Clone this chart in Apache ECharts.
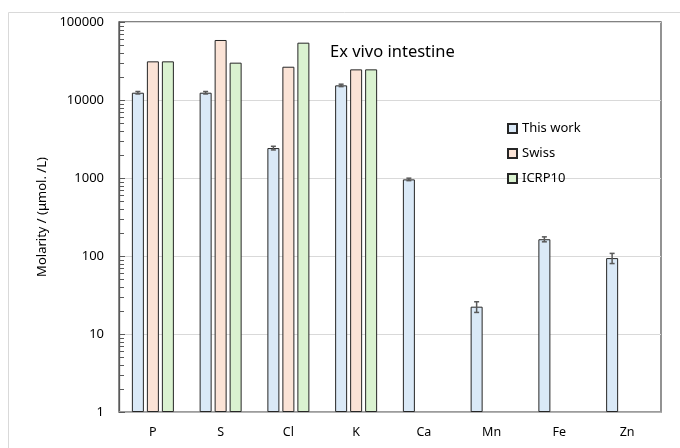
<!DOCTYPE html>
<html><head><meta charset="utf-8">
<script src="https://cdn.jsdelivr.net/npm/echarts@6/dist/echarts.min.js"></script>
<style>html,body{margin:0;padding:0;background:#fff}#c{width:680px;height:448px}</style>
</head><body><div id="c"></div>
<script>
const categories = ['P','S','Cl','K','Ca','Mn','Fe','Zn'];
const thisWork = [12400, 12400, 2420, 15400, 960, 22.4, 164, 94];
const thisWorkErr = [450, 450, 130, 550, 35, 3.5, 12, 14];
const swiss = [31300, 58800, 26700, 24700, null, null, null, null];
const icrp10 = [31300, 30100, 54300, 24700, null, null, null, null];
const yTickValues = [1, 10, 100, 1000, 10000, 100000];
const minorMultipliers = [2,3,4,5,6,7,8,9];

const FONT = 'Noto Sans';
const minorData = [];
for (let d = 0; d < yTickValues.length - 1; d++) {
  for (const m of minorMultipliers) minorData.push([0, yTickValues[d] * m]);
}
const errData = thisWork.map((v, i) => [i, v, v - thisWorkErr[i], v + thisWorkErr[i]]);

const chart = echarts.init(document.getElementById('c'));
chart.setOption({
  animation: false,
  textStyle: { fontFamily: FONT },
  graphic: [
    { type: 'rect', shape: { x: 8.5, y: 12.5, width: 700, height: 500 }, style: { fill: 'none', stroke: '#d9d9d9', lineWidth: 1 }, silent: true, z: -10 },
    { type: 'text', left: 330, top: 44, style: { text: 'Ex vivo intestine', font: '16.5px "' + FONT + '"', fill: '#000' } }
  ],
  grid: { left: 119, top: 22, right: 19, bottom: 36, show: true, borderColor: '#595959', borderWidth: 1.3 },
  legend: {
    data: ['This work', 'Swiss', 'ICRP10'],
    orient: 'vertical', left: 502, top: 117,
    itemWidth: 9, itemHeight: 9, itemGap: 12,
    icon: 'rect',
    textStyle: { fontSize: 13, color: '#000', fontFamily: FONT }
  },
  xAxis: {
    type: 'category', data: categories,
    axisLine: { lineStyle: { color: '#a6a6a6', width: 1.5 } },
    axisTick: { show: false },
    axisLabel: { color: '#000', fontSize: 12.5, margin: 14 },
    splitLine: { show: false }
  },
  yAxis: {
    type: 'log', logBase: 10, min: 1, max: 100000,
    name: 'Molarity / (μmol. /L)', nameLocation: 'middle', nameGap: 66,
    nameTextStyle: { fontSize: 13, color: '#000' },
    axisLine: { show: true, lineStyle: { color: '#595959', width: 1.3 } },
    axisTick: { show: true, inside: true, length: 6, lineStyle: { color: '#595959' } },
    axisLabel: { color: '#000', fontSize: 13, margin: 15, formatter: function (v) { return String(Math.round(v)); } },
    splitLine: { show: true, lineStyle: { color: '#d9d9d9', width: 1 } }
  },
  series: [
    { name: 'This work', type: 'bar', data: thisWork, barWidth: 12, barGap: '25%',
      itemStyle: { color: '#dae9f7', borderColor: '#262626', borderWidth: 1 } },
    { name: 'Swiss', type: 'bar', data: swiss, barWidth: 12, barGap: '25%',
      itemStyle: { color: '#fbe3d6', borderColor: '#262626', borderWidth: 1 } },
    { name: 'ICRP10', type: 'bar', data: icrp10, barWidth: 12, barGap: '25%',
      itemStyle: { color: '#daf2d0', borderColor: '#262626', borderWidth: 1 } },
    { type: 'custom', name: 'err', data: errData, z: 10, silent: true, encode: { x: 0, y: 1 },
      renderItem: function (params, api) {
        const i = api.value(0);
        const off = -15;
        const lo = api.coord([i, api.value(2)]);
        const hi = api.coord([i, api.value(3)]);
        const x = lo[0] + off;
        const st = { stroke: '#595959', lineWidth: 1.5 };
        return { type: 'group', children: [
          { type: 'line', shape: { x1: x, y1: lo[1], x2: x, y2: hi[1] }, style: st },
          { type: 'line', shape: { x1: x - 2.5, y1: lo[1], x2: x + 2.5, y2: lo[1] }, style: st },
          { type: 'line', shape: { x1: x - 2.5, y1: hi[1], x2: x + 2.5, y2: hi[1] }, style: st }
        ]};
      }
    },
    { type: 'custom', name: 'minor', data: minorData, z: 10, silent: true, encode: { x: 0, y: 1 },
      renderItem: function (params, api) {
        const p = api.coord([api.value(0), api.value(1)]);
        const x0 = params.coordSys.x;
        return { type: 'line', shape: { x1: x0, y1: Math.round(p[1]) + 0.5, x2: x0 + 5, y2: Math.round(p[1]) + 0.5 }, style: { stroke: '#595959', lineWidth: 1 } };
      }
    }
  ]
});
</script>
</body></html>
